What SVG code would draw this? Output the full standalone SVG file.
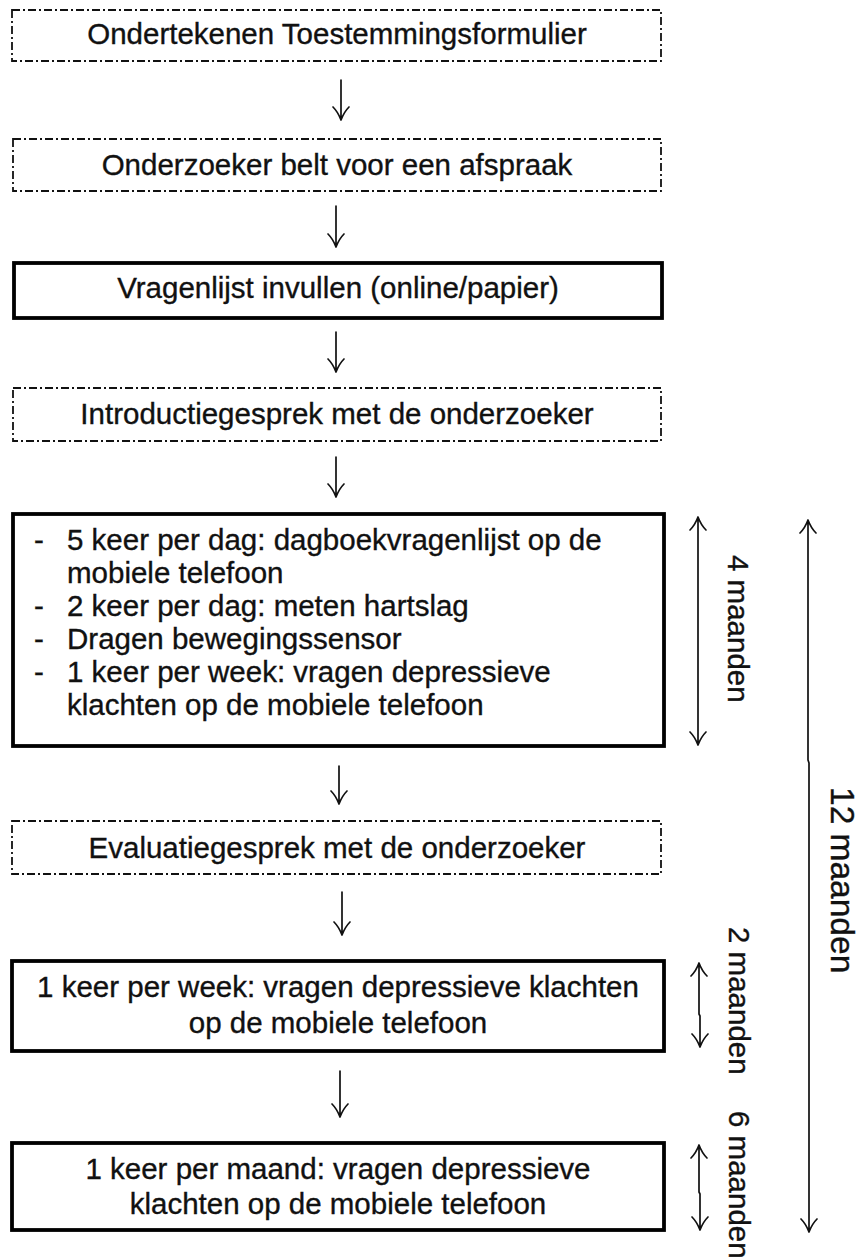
<svg xmlns="http://www.w3.org/2000/svg" width="861" height="1260" viewBox="0 0 861 1260">
<style>
  .dd { fill: #fff; stroke: #111; stroke-width: 1.8; stroke-dasharray: 8 3 2 3; }
  .solid { fill: #fff; stroke: #000; stroke-width: 3.8; }
  .t { font-family: "Liberation Sans", Arial, sans-serif; font-size: 29.5px; fill: #111; stroke: #111; stroke-width: 0.35; }
  .tc { text-anchor: middle; }
  .big { font-size: 33.5px; }
  .conn { fill: none; stroke: #111; stroke-width: 1.7; stroke-linecap: round; stroke-linejoin: round; }
</style>
<rect width="861" height="1260" fill="#fff"/>

<g id="node-ondertekenen">
  <rect class="dd" x="12" y="10" width="649" height="51"/>
  <text class="t tc" x="337" y="44">Ondertekenen Toestemmingsformulier</text>
</g>
<g id="node-belt">
  <rect class="dd" x="13" y="139" width="648" height="52"/>
  <text class="t tc" x="337" y="175">Onderzoeker belt voor een afspraak</text>
</g>
<g id="node-vragenlijst">
  <rect class="solid" x="14" y="263" width="648" height="55"/>
  <text class="t tc" x="338" y="298">Vragenlijst invullen (online/papier)</text>
</g>
<g id="node-introductie">
  <rect class="dd" x="13" y="388" width="648" height="53"/>
  <text class="t tc" x="337" y="424">Introductiegesprek met de onderzoeker</text>
</g>
<g id="node-meting">
  <rect class="solid" x="13" y="514" width="651" height="232"/>
  <text class="t" x="34" y="550">-</text><text class="t" x="67" y="550">5 keer per dag: dagboekvragenlijst op de</text>
  <text class="t" x="67" y="583">mobiele telefoon</text>
  <text class="t" x="34" y="616">-</text><text class="t" x="67" y="616">2 keer per dag: meten hartslag</text>
  <text class="t" x="34" y="649">-</text><text class="t" x="67" y="649">Dragen bewegingssensor</text>
  <text class="t" x="34" y="682">-</text><text class="t" x="67" y="682">1 keer per week: vragen depressieve</text>
  <text class="t" x="67" y="715">klachten op de mobiele telefoon</text>
</g>
<g id="node-evaluatie">
  <rect class="dd" x="12" y="821" width="649" height="53"/>
  <text class="t tc" x="337" y="858">Evaluatiegesprek met de onderzoeker</text>
</g>
<g id="node-week">
  <rect class="solid" x="12" y="961" width="652" height="90"/>
  <text class="t tc" x="338" y="997">1 keer per week: vragen depressieve klachten</text>
  <text class="t tc" x="338" y="1033">op de mobiele telefoon</text>
</g>
<g id="node-maand">
  <rect class="solid" x="12" y="1143" width="652" height="87"/>
  <text class="t tc" x="338" y="1179">1 keer per maand: vragen depressieve</text>
  <text class="t tc" x="338" y="1214">klachten op de mobiele telefoon</text>
</g>

<g id="connectors">
  <path class="conn" d="M341,80 V120 M333,107 Q338,112 341,120 Q344,112 349,107"/>
  <path class="conn" d="M336,206 V247 M328,234 Q333,239 336,247 Q339,239 344,234"/>
  <path class="conn" d="M336,332 V372 M328,359 Q333,364 336,372 Q339,364 344,359"/>
  <path class="conn" d="M336,457 V497 M328,484 Q333,489 336,497 Q339,489 344,484"/>
  <path class="conn" d="M339,766 V804 M331,791 Q336,796 339,804 Q342,796 347,791"/>
  <path class="conn" d="M342,892 V935 M334,922 Q339,927 342,935 Q345,927 350,922"/>
  <path class="conn" d="M340,1071 V1117 M332,1104 Q337,1109 340,1117 Q343,1109 348,1104"/>
</g>

<g id="span-4-maanden">
  <path class="conn" d="M698,517 V745 M690,530 Q695,525 698,517 Q701,525 706,530 M690,732 Q695,737 698,745 Q701,737 706,732"/>
  <text class="t" transform="translate(728,555) rotate(90)">4 maanden</text>
</g>
<g id="span-12-maanden">
  <path class="conn" d="M808,520 V760 L809,763 V1232 M800,533 Q805,528 808,520 Q811,528 816,533 M801,1219 Q806,1224 809,1232 Q812,1224 817,1219"/>
  <text class="t big" transform="translate(831,787) rotate(90)">12 maanden</text>
</g>
<g id="span-2-maanden">
  <path class="conn" d="M699,963 V1014 L700,1016 V1047 M691,976 Q696,971 699,963 Q702,971 707,976 M692,1034 Q697,1039 700,1047 Q703,1039 708,1034"/>
  <text class="t" transform="translate(729,927) rotate(90)">2 maanden</text>
</g>
<g id="span-6-maanden">
  <path class="conn" d="M699,1145 V1192 L700,1194 V1230 M691,1158 Q696,1153 699,1145 Q702,1153 707,1158 M692,1217 Q697,1222 700,1230 Q703,1222 708,1217"/>
  <text class="t" transform="translate(729,1111) rotate(90)">6 maanden</text>
</g>
</svg>
